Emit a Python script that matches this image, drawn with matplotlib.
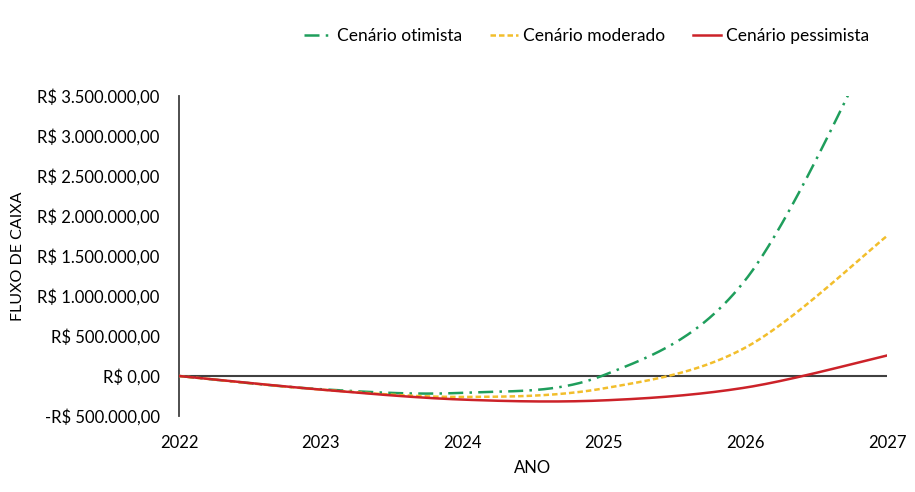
import matplotlib.pyplot as plt
import numpy as np

plt.rcParams['font.family'] = ['Lato', 'DejaVu Sans']

anos = [2022, 2023, 2024, 2025, 2026, 2027]
otimista = [0, -165000, -210000, 10000, 1200000, 4500000]
moderado = [0, -170000, -262000, -155000, 355000, 1750000]
pessimista = [0, -170000, -295000, -305000, -145000, 256000]

y_ticks = [-500000, 0, 500000, 1000000, 1500000, 2000000, 2500000, 3000000, 3500000]


def suavizar(x, y, n=60):
    # curva suavizada tipo Excel (Catmull-Rom / Bezier)
    x = np.asarray(x, float)
    y = np.asarray(y, float)
    px = np.concatenate([[x[0]], x, [x[-1]]])
    py = np.concatenate([[y[0]], y, [y[-1]]])
    xs, ys = [], []
    t = np.linspace(0, 1, n)
    for i in range(1, len(px) - 2):
        p0 = np.array([px[i], py[i]])
        p3 = np.array([px[i + 1], py[i + 1]])
        c1 = p0 + (np.array([px[i + 1], py[i + 1]]) - np.array([px[i - 1], py[i - 1]])) / 6
        c2 = p3 - (np.array([px[i + 2], py[i + 2]]) - np.array([px[i], py[i]])) / 6
        pts = ((1 - t) ** 3)[:, None] * p0 + (3 * (1 - t) ** 2 * t)[:, None] * c1 \
            + (3 * (1 - t) * t ** 2)[:, None] * c2 + (t ** 3)[:, None] * p3
        xs.extend(pts[:, 0])
        ys.extend(pts[:, 1])
    return xs, ys


def moeda(v):
    s = f"{abs(v):,.2f}".replace(",", "X").replace(".", ",").replace("X", ".")
    return ("-R$ " if v < 0 else "R$ ") + s


fig = plt.figure(figsize=(9.15, 4.92), dpi=100)
ax = fig.add_axes([0.1956, 0.1545, 0.7738, 0.6505])

ax.axhline(0, color='#404040', lw=1.5, zorder=1)

x, y = suavizar(anos, otimista)
ax.plot(x, y, color='#1F9E5C', lw=1.8, linestyle=(0, (6, 2.5, 1, 2.5)), label='Cenário otimista', zorder=3)
x, y = suavizar(anos, moderado)
ax.plot(x, y, color='#F2BE2C', lw=1.8, linestyle=(0, (2.2, 1.2)), label='Cenário moderado', zorder=3)
x, y = suavizar(anos, pessimista)
ax.plot(x, y, color='#CC2229', lw=1.8, label='Cenário pessimista', zorder=4)

ax.set_xlim(2022, 2027)
ax.set_ylim(-500000, 3500000)
ax.set_xticks(anos)
ax.set_xticklabels([str(a) for a in anos], fontsize=12)
ax.set_yticks(y_ticks)
ax.set_yticklabels([moeda(v) for v in y_ticks], fontsize=12)
ax.tick_params(axis='y', length=0, pad=14)
ax.tick_params(axis='x', length=0, pad=14)

for s in ['top', 'right', 'bottom']:
    ax.spines[s].set_visible(False)
ax.spines['left'].set_color('#404040')
ax.spines['left'].set_linewidth(1.3)

ax.set_ylabel('FLUXO DE CAIXA', fontsize=11.5, labelpad=9)
ax.set_xlabel('ANO', fontsize=12, labelpad=6)

fig.legend(loc='center', bbox_to_anchor=(0.641, 0.926), ncol=3, frameon=False,
           fontsize=12.5, handlelength=1.6, handletextpad=0.3, columnspacing=1.6)

fig.savefig('out.png', dpi=100)
